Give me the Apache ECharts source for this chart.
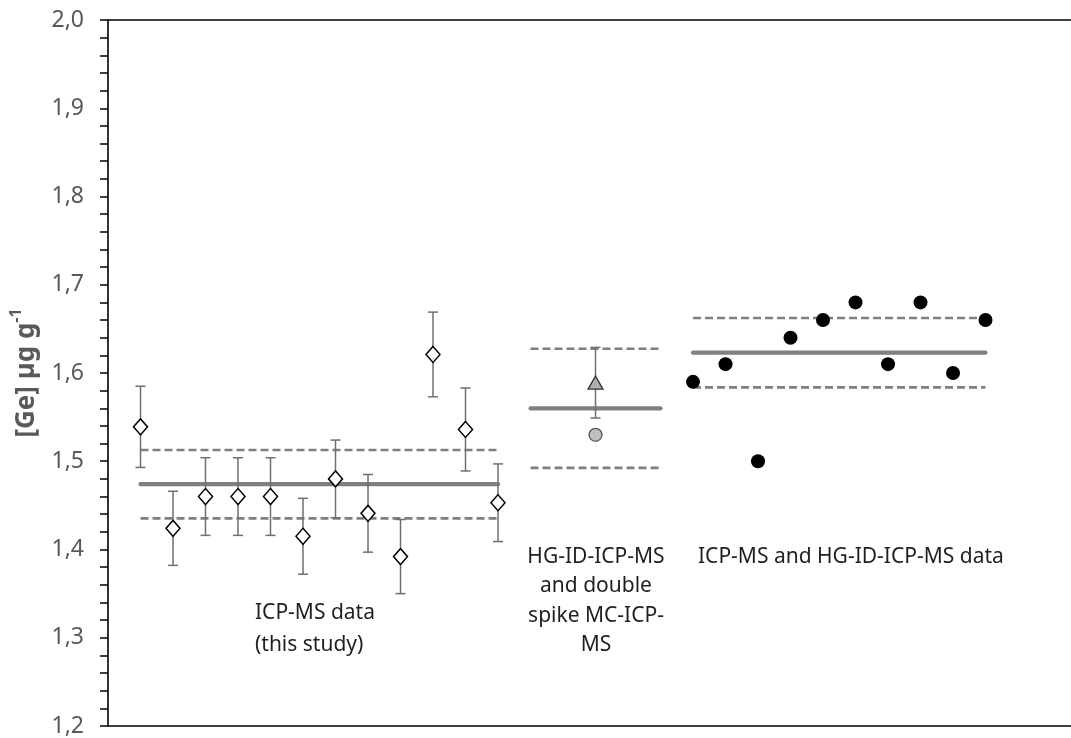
<!DOCTYPE html>
<html>
<head>
<meta charset="utf-8">
<script src="https://cdn.jsdelivr.net/npm/echarts@6/dist/echarts.min.js"></script>
<style>
  html, body { margin: 0; padding: 0; background: #fff; }
  #chart { width: 1071px; height: 738px; }
</style>
</head>
<body>
<div id="chart"></div>
<script>
// ---- data ----
// ICP-MS data (this study): open diamonds with error bars
const icpValues = [1.539, 1.424, 1.460, 1.460, 1.460, 1.415, 1.480, 1.441, 1.392, 1.621, 1.536, 1.453];
const icpErrors = [0.046, 0.042, 0.044, 0.044, 0.044, 0.043, 0.044, 0.044, 0.042, 0.048, 0.047, 0.044];
// HG-ID-ICP-MS (triangle, with error bar) and double spike MC-ICP-MS (circle)
const hgTriangleValue = 1.589;
const hgTriangleError = 0.040;
const dsCircleValue = 1.530;
// ICP-MS and HG-ID-ICP-MS data: filled black circles
const combinedValues = [1.59, 1.61, 1.50, 1.64, 1.66, 1.68, 1.61, 1.68, 1.60, 1.66];
// group means and uncertainty half-widths (solid / dashed lines)
const groupMeans = [1.474, 1.560, 1.623];
const groupHalfWidths = [0.0387, 0.0675, 0.0393];
// sample-index spans of each group
const groupSpans = [[1, 12], [13, 17], [18, 27]];
const groupLabels = ['ICP-MS data\n(this study)', 'HG-ID-ICP-MS\nand double\nspike MC-ICP-\nMS', 'ICP-MS and HG-ID-ICP-MS data'];
const yTickValues = [1.2, 1.3, 1.4, 1.5, 1.6, 1.7, 1.8, 1.9, 2.0];

// ---- derived series data ----
const icpPoints = icpValues.map((v, i) => [groupSpans[0][0] + i, v]);
const hgX = (groupSpans[1][0] + groupSpans[1][1]) / 2;
const combinedPoints = combinedValues.map((v, i) => [groupSpans[2][0] + i, v]);
const errorBars = icpValues.map((v, i) => [groupSpans[0][0] + i, v - icpErrors[i], v + icpErrors[i]]);
errorBars.push([hgX, hgTriangleValue - hgTriangleError, hgTriangleValue + hgTriangleError]);
const groupLines = groupMeans.map((m, i) => [groupSpans[i][0], groupSpans[i][1], m, groupHalfWidths[i]]);

const FONT = '"Noto Sans", "Open Sans", sans-serif';
const chart = echarts.init(document.getElementById('chart'), null, { renderer: 'canvas' });

const option = {
  animation: false,
  backgroundColor: '#ffffff',
  grid: { left: 108, right: 0, top: 20, bottom: 12, containLabel: false, outerBoundsMode: 'none' },
  xAxis: [
    {
      type: 'value', min: 0, max: 29.63, position: 'bottom',
      axisLine: { show: true, lineStyle: { color: '#000', width: 1.6 } },
      axisTick: { show: false }, axisLabel: { show: false }, splitLine: { show: false }
    },
    {
      type: 'value', min: 0, max: 29.63, position: 'top',
      axisLine: { show: true, onZero: false, lineStyle: { color: '#000', width: 1.6 } },
      axisTick: { show: false }, axisLabel: { show: false }, splitLine: { show: false }
    }
  ],
  yAxis: {
    type: 'value', min: yTickValues[0], max: yTickValues[yTickValues.length - 1], interval: 0.1,
    axisLine: { show: true, onZero: false, lineStyle: { color: '#000', width: 1.6 } },
    axisTick: { show: true, inside: false, length: 8, lineStyle: { color: '#000', width: 1.5 } },
    minorTick: { show: true, splitNumber: 5, length: 8, lineStyle: { color: '#000', width: 1.5 } },
    splitLine: { show: false },
    axisLabel: {
      margin: 24, color: '#595959', fontSize: 23, fontFamily: FONT,
      formatter: v => v.toFixed(1).replace('.', ',')
    },
    name: '{a|[Ge] µg g}{b|-1}',
    nameLocation: 'middle', nameRotate: 90, nameGap: 68,
    nameTextStyle: {
      rich: {
        a: { fontSize: 26, fontWeight: 'bold', color: '#595959', fontFamily: FONT, lineHeight: 32, verticalAlign: 'bottom' },
        b: { fontSize: 16, fontWeight: 'bold', color: '#595959', fontFamily: FONT, lineHeight: 16, verticalAlign: 'top' }
      }
    }
  },
  series: [
    {
      name: 'group lines', type: 'custom', z: 1,
      data: groupLines,
      renderItem: (params, api) => {
        const x0 = api.value(0), x1 = api.value(1), m = api.value(2), h = api.value(3);
        const a = api.coord([x0, m]), b = api.coord([x1, m]);
        const ua = api.coord([x0, m + h]), ub = api.coord([x1, m + h]);
        const la = api.coord([x0, m - h]), lb = api.coord([x1, m - h]);
        const dashStyle = { stroke: '#7f7f7f', lineWidth: 2.6, lineDash: [8, 4], lineCap: 'butt' };
        return {
          type: 'group',
          children: [
            { type: 'line', shape: { x1: ua[0], y1: ua[1], x2: ub[0], y2: ub[1] }, style: dashStyle },
            { type: 'line', shape: { x1: la[0], y1: la[1], x2: lb[0], y2: lb[1] }, style: dashStyle },
            { type: 'line', shape: { x1: a[0], y1: a[1], x2: b[0], y2: b[1] }, style: { stroke: '#808080', lineWidth: 4.2, lineCap: 'round' } }
          ]
        };
      }
    },
    {
      name: 'error bars', type: 'custom', z: 2,
      data: errorBars,
      renderItem: (params, api) => {
        const x = api.value(0);
        const lo = api.coord([x, api.value(1)]);
        const hi = api.coord([x, api.value(2)]);
        const w = 5;
        const st = { stroke: '#6f6f6f', lineWidth: 1.5 };
        return {
          type: 'group',
          children: [
            { type: 'line', shape: { x1: hi[0], y1: hi[1], x2: lo[0], y2: lo[1] }, style: st },
            { type: 'line', shape: { x1: hi[0] - w, y1: hi[1], x2: hi[0] + w, y2: hi[1] }, style: st },
            { type: 'line', shape: { x1: lo[0] - w, y1: lo[1], x2: lo[0] + w, y2: lo[1] }, style: st }
          ]
        };
      }
    },
    {
      name: 'ICP-MS data (this study)', type: 'scatter', z: 3,
      symbol: 'diamond', symbolSize: [14, 16],
      itemStyle: { color: '#ffffff', borderColor: '#000000', borderWidth: 1.5, opacity: 1 },
      data: icpPoints
    },
    {
      name: 'HG-ID-ICP-MS', type: 'scatter', z: 3,
      symbol: 'triangle', symbolSize: [15, 13],
      itemStyle: { color: '#b0b0b0', borderColor: '#333333', borderWidth: 1.3, opacity: 1 },
      data: [[hgX, hgTriangleValue]]
    },
    {
      name: 'double spike MC-ICP-MS', type: 'scatter', z: 3,
      symbol: 'circle', symbolSize: 13,
      itemStyle: { color: '#bfbfbf', borderColor: '#555555', borderWidth: 1.3, opacity: 1 },
      data: [[hgX, dsCircleValue]]
    },
    {
      name: 'ICP-MS and HG-ID-ICP-MS data', type: 'scatter', z: 3,
      symbol: 'circle', symbolSize: 14,
      itemStyle: { color: '#000000', borderColor: '#000000', borderWidth: 0, opacity: 1 },
      data: combinedPoints
    }
  ],
  graphic: [
    { type: 'text', x: 255, y: 597, z: 10,
      style: { text: groupLabels[0], fontSize: 21, fontFamily: FONT, fill: '#1f1f1f', lineHeight: 32, align: 'left', verticalAlign: 'top' } },
    { type: 'text', x: 596, y: 542, z: 10,
      style: { text: groupLabels[1], fontSize: 21, fontFamily: FONT, fill: '#1f1f1f', lineHeight: 29.5, align: 'center', verticalAlign: 'top' } },
    { type: 'text', x: 698, y: 542, z: 10,
      style: { text: groupLabels[2], fontSize: 21, fontFamily: FONT, fill: '#1f1f1f', lineHeight: 30, align: 'left', verticalAlign: 'top' } }
  ]
};
chart.setOption(option);
</script>
</body>
</html>
